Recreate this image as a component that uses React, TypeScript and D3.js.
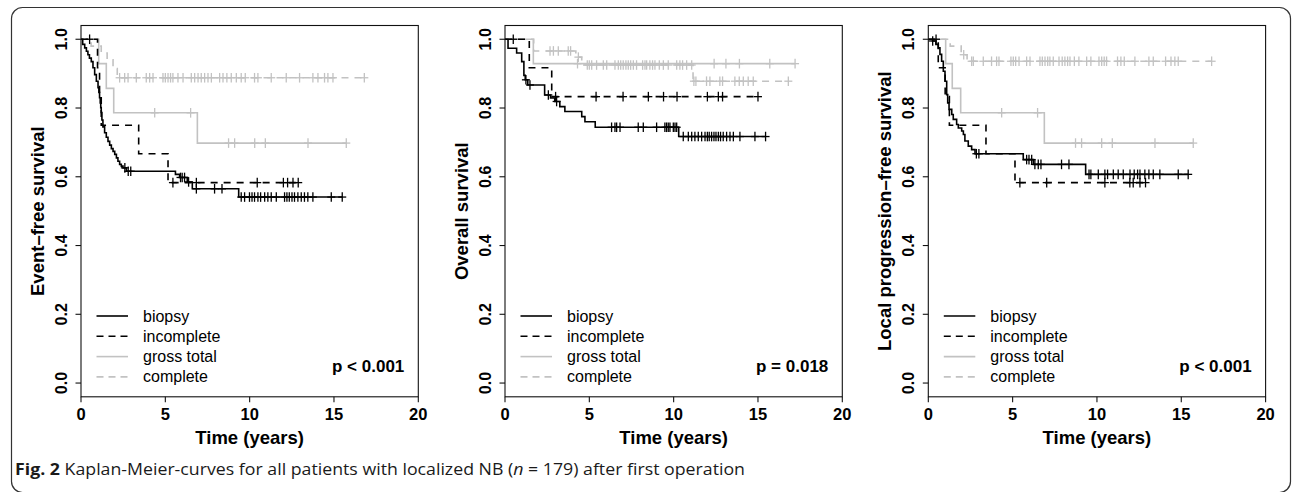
import React from 'react';
import * as d3 from 'd3';

// ---------- axis / label data ----------
const xTicks = [0, 5, 10, 15, 20];
const yTicks = [0, 0.2, 0.4, 0.6, 0.8, 1.0];
const groupNames = ['biopsy', 'incomplete', 'gross total', 'complete'];
const panelTitles = ['Event\u2013free survival', 'Overall survival', 'Local progression\u2013free survival'];
const pValues = ['p < 0.001', 'p = 0.018', 'p < 0.001'];
const xTitle = 'Time (years)';

// ---------- Event-free survival ----------
const efsBiopsyT = [0.1, 0.22, 0.32, 0.41, 0.5, 0.61, 0.71, 0.81, 0.91, 1.01, 1.06, 1.1, 1.14, 1.17, 1.2, 1.24, 1.3, 1.4, 1.5, 1.6, 1.7, 1.8, 1.9, 2.0, 2.1, 2.19, 2.29, 2.39, 2.49, 2.69, 5.6, 5.85, 6.3, 6.6, 9.35];
const efsBiopsyS = [0.985, 0.975, 0.965, 0.955, 0.945, 0.935, 0.917, 0.897, 0.878, 0.859, 0.845, 0.83, 0.815, 0.801, 0.787, 0.765, 0.745, 0.728, 0.715, 0.703, 0.692, 0.682, 0.674, 0.665, 0.655, 0.645, 0.636, 0.631, 0.626, 0.616, 0.607, 0.598, 0.585, 0.565, 0.541];
const efsBiopsyC = [2.6, 2.8, 2.95, 5.9, 6.0, 6.14, 6.38, 6.84, 7.92, 8.36, 9.5, 9.7, 9.99, 10.14, 10.29, 10.49, 10.65, 10.89, 11.08, 11.28, 11.58, 12.07, 12.21, 12.35, 12.51, 12.66, 12.86, 13.06, 13.25, 13.45, 13.75, 14.84, 15.49];
const efsIncompleteT = [0.98, 1.1, 1.2, 3.42, 5.16];
const efsIncompleteS = [0.917, 0.833, 0.75, 0.667, 0.583];
const efsIncompleteC = [0.51, 5.45, 6.84, 10.45, 12.0, 12.25, 12.57, 12.88];
const efsGrossT = [1.05, 1.5, 1.94, 6.9];
const efsGrossS = [0.929, 0.857, 0.786, 0.698];
const efsGrossC = [4.37, 6.5, 8.75, 9.11, 10.3, 10.93, 13.46, 15.73];
const efsCompleteT = [0.6, 1.2, 1.55, 1.9, 2.15];
const efsCompleteS = [0.98, 0.96, 0.94, 0.915, 0.888];
const efsCompleteC = [2.29, 2.59, 2.79, 3.28, 3.87, 4.07, 4.27, 4.86, 5.0, 5.16, 5.31, 5.45, 5.75, 6.05, 6.54, 6.74, 6.94, 7.13, 7.33, 7.53, 7.73, 8.22, 8.42, 8.65, 8.91, 9.21, 9.5, 9.74, 10.29, 10.49, 11.28, 12.17, 12.96, 13.75, 14.05, 14.44, 14.64, 14.94, 16.8];

// ---------- Overall survival ----------
const osBiopsyT = [0.18, 0.69, 0.99, 1.12, 1.2, 1.35, 2.35, 2.7, 2.95, 3.25, 3.55, 4.55, 4.74, 5.35, 10.3];
const osBiopsyS = [0.974, 0.96, 0.935, 0.895, 0.882, 0.867, 0.838, 0.829, 0.819, 0.804, 0.79, 0.775, 0.76, 0.744, 0.717];
const osBiopsyC = [1.24, 1.48, 2.57, 3.06, 6.32, 6.52, 6.62, 6.82, 7.9, 8.2, 8.99, 9.48, 9.58, 9.68, 9.78, 9.98, 10.08, 10.18, 10.57, 10.87, 11.07, 11.26, 11.46, 11.66, 11.86, 12.0, 12.11, 12.25, 12.39, 12.51, 12.65, 12.78, 12.94, 13.14, 13.34, 13.54, 13.93, 14.82, 15.45];
const osIncompleteT = [1.44, 2.77];
const osIncompleteS = [0.917, 0.833];
const osIncompleteC = [0.49, 3.0, 5.4, 7.0, 8.5, 9.4, 10.2, 12.0, 12.65, 12.9, 15.0];
const osGrossT = [1.68];
const osGrossS = [0.929];
const osGrossC = [4.3, 12.4, 13.1, 13.9, 15.7, 17.2];
const osCompleteT = [1.7, 4.2, 4.55, 11.15];
const osCompleteS = [0.966, 0.948, 0.925, 0.878];
const osCompleteC = [2.67, 2.87, 3.16, 3.75, 3.89, 4.35, 4.88, 5.0, 5.14, 5.43, 5.83, 6.03, 6.52, 6.72, 6.86, 7.01, 7.17, 7.31, 7.45, 7.61, 7.8, 8.16, 8.3, 8.4, 8.59, 8.75, 8.89, 9.15, 9.39, 9.68, 10.18, 10.37, 10.53, 10.77, 11.07, 11.2, 11.32, 11.95, 12.15, 12.74, 12.9, 13.63, 13.89, 14.13, 14.42, 14.72, 16.8];

// ---------- Local progression-free survival ----------
const lpfsBiopsyT = [0.25, 0.45, 0.59, 0.69, 0.79, 0.89, 0.99, 1.09, 1.15, 1.23, 1.39, 1.48, 1.68, 1.78, 1.98, 2.08, 2.17, 2.37, 2.57, 2.77, 5.63, 6.23, 9.33];
const lpfsBiopsyS = [0.995, 0.985, 0.975, 0.956, 0.936, 0.907, 0.878, 0.839, 0.815, 0.796, 0.781, 0.767, 0.752, 0.742, 0.733, 0.723, 0.704, 0.689, 0.679, 0.667, 0.65, 0.636, 0.607];
const lpfsBiopsyC = [0.26, 2.85, 3.0, 5.83, 5.97, 6.13, 6.32, 6.52, 6.68, 7.9, 8.34, 9.53, 9.64, 10.08, 10.47, 10.63, 10.97, 11.26, 11.56, 11.96, 12.21, 12.41, 12.55, 12.84, 13.08, 13.34, 13.73, 14.82, 15.41];
const lpfsIncompleteT = [0.59, 1.0, 1.25, 3.42, 5.14];
const lpfsIncompleteS = [0.917, 0.833, 0.75, 0.667, 0.583];
const lpfsIncompleteC = [0.46, 5.43, 7.02, 10.47, 11.95, 12.15, 12.55, 12.88];
const lpfsGrossT = [1.03, 1.42, 1.92, 6.88];
const lpfsGrossS = [0.929, 0.857, 0.786, 0.698];
const lpfsGrossC = [4.35, 6.48, 8.73, 9.09, 10.28, 10.91, 13.44, 15.71];
const lpfsCompleteT = [1.3, 1.95, 2.3];
const lpfsCompleteS = [0.98, 0.955, 0.936];
const lpfsCompleteC = [2.1, 2.57, 2.67, 3.26, 3.75, 4.05, 4.19, 4.9, 5.04, 5.18, 5.38, 5.83, 6.03, 6.62, 6.76, 6.92, 7.08, 7.21, 7.41, 7.75, 7.94, 8.1, 8.26, 8.4, 8.66, 8.93, 9.39, 9.64, 10.12, 10.28, 10.43, 10.57, 11.22, 11.42, 11.62, 12.25, 13.08, 13.34, 14.07, 14.39, 14.62, 14.82, 16.8];

type Curve = { t: number[]; s: number[]; c: number[] };

const panels: Curve[][] = [
  [
    { t: efsBiopsyT, s: efsBiopsyS, c: efsBiopsyC },
    { t: efsIncompleteT, s: efsIncompleteS, c: efsIncompleteC },
    { t: efsGrossT, s: efsGrossS, c: efsGrossC },
    { t: efsCompleteT, s: efsCompleteS, c: efsCompleteC },
  ],
  [
    { t: osBiopsyT, s: osBiopsyS, c: osBiopsyC },
    { t: osIncompleteT, s: osIncompleteS, c: osIncompleteC },
    { t: osGrossT, s: osGrossS, c: osGrossC },
    { t: osCompleteT, s: osCompleteS, c: osCompleteC },
  ],
  [
    { t: lpfsBiopsyT, s: lpfsBiopsyS, c: lpfsBiopsyC },
    { t: lpfsIncompleteT, s: lpfsIncompleteS, c: lpfsIncompleteC },
    { t: lpfsGrossT, s: lpfsGrossS, c: lpfsGrossC },
    { t: lpfsCompleteT, s: lpfsCompleteS, c: lpfsCompleteC },
  ],
];

// ---------- styling ----------
const GRAY = '#c2c2c2';
const groupStyle = [
  { color: '#000', dash: undefined as string | undefined },
  { color: '#000', dash: '7,6' },
  { color: GRAY, dash: undefined as string | undefined },
  { color: GRAY, dash: '7,6' },
];
const drawOrder = [3, 2, 1, 0];

const W = 1292;
const H = 492;
const boxTop = 25.5;
const boxBottom = 396.8;
const boxW = 337.3;
const panelLefts = [81, 505, 928.3];
const FONT = '"Liberation Sans", Arial, Helvetica, sans-serif';

function survAt(cv: Curve, time: number) {
  let v = 1;
  cv.t.forEach((t, i) => {
    if (t <= time) v = cv.s[i];
  });
  return v;
}

function Panel({ idx }: { idx: number }) {
  const left = panelLefts[idx];
  const x = d3.scaleLinear().domain([0, 20]).range([left, left + boxW]);
  const y = d3.scaleLinear().domain([-0.04, 1.04]).range([boxBottom, boxTop]);
  const line = d3
    .line<[number, number]>()
    .x((d) => x(d[0]))
    .y((d) => y(d[1]))
    .curve(d3.curveStepAfter);
  const curves = panels[idx];
  const cy = (boxTop + boxBottom) / 2;
  const legendY0 = 316;
  const legendDy = 20.3;
  const mv = 4.8;
  const mh = 4;
  return (
    <g>
      {drawOrder.map((gi) => {
        const cv = curves[gi];
        const st = groupStyle[gi];
        const end = Math.max(cv.t[cv.t.length - 1], d3.max(cv.c) || 0);
        const pts: [number, number][] = [[0, 1]];
        cv.t.forEach((t, i) => pts.push([t, cv.s[i]]));
        pts.push([end, cv.s[cv.s.length - 1]]);
        return (
          <g key={gi}>
            <path d={line(pts) || ''} fill="none" stroke={st.color} strokeWidth={1.6} strokeDasharray={st.dash} />
            {cv.c.map((c, k) => {
              const px = x(c);
              const py = y(survAt(cv, c));
              return (
                <g key={k} stroke={st.color} strokeWidth={1.3}>
                  <line x1={px} x2={px} y1={py - mv} y2={py + mv} />
                  <line x1={px - mh} x2={px + mh} y1={py} y2={py} />
                </g>
              );
            })}
          </g>
        );
      })}
      <rect x={left} y={boxTop} width={boxW} height={boxBottom - boxTop} fill="none" stroke="#111" strokeWidth={1.1} />
      {xTicks.map((t) => (
        <g key={'x' + t}>
          <line x1={x(t)} x2={x(t)} y1={boxBottom} y2={boxBottom + 5.5} stroke="#111" strokeWidth={1.1} />
          <text x={x(t)} y={420} textAnchor="middle" fontFamily={FONT} fontWeight="bold" fontSize={16.5}>
            {t}
          </text>
        </g>
      ))}
      {yTicks.map((t) => (
        <g key={'y' + t}>
          <line x1={left} x2={left - 5.5} y1={y(t)} y2={y(t)} stroke="#111" strokeWidth={1.1} />
          <text
            transform={`translate(${left - 14},${y(t)}) rotate(-90)`}
            textAnchor="middle"
            fontFamily={FONT}
            fontWeight="bold"
            fontSize={16}
          >
            {t.toFixed(1)}
          </text>
        </g>
      ))}
      <text x={left + boxW / 2} y={444} textAnchor="middle" fontFamily={FONT} fontWeight="bold" fontSize={18.5}>
        {xTitle}
      </text>
      <text
        transform={`translate(${left - 37},${cy}) rotate(-90)`}
        textAnchor="middle"
        fontFamily={FONT}
        fontWeight="bold"
        fontSize={18.5}
      >
        {panelTitles[idx]}
      </text>
      {groupNames.map((g, i) => {
        const ly = legendY0 + i * legendDy;
        const st = groupStyle[i];
        return (
          <g key={g}>
            <line x1={left + 15.5} x2={left + 47} y1={ly} y2={ly} stroke={st.color} strokeWidth={1.6} strokeDasharray={st.dash ? '7,5' : undefined} />
            <text x={left + 62} y={ly + 5.5} fontFamily={FONT} fontSize={16}>
              {g}
            </text>
          </g>
        );
      })}
      <text x={left + boxW - 14} y={371.5} textAnchor="end" fontFamily={FONT} fontWeight="bold" fontSize={17}>
        {pValues[idx]}
      </text>
    </g>
  );
}

export default function App() {
  return (
    <svg
      width={W}
      height={H}
      viewBox={`0 0 ${W} ${H}`}
      style={{ position: 'absolute', left: 0, top: 0, background: '#fff' }}
    >
      <rect x={0} y={0} width={W} height={H} fill="#fff" />
      <rect x={11.5} y={7.5} width={1279} height={485} rx={11} ry={11} fill="none" stroke="#333" strokeWidth={1.2} />
      {[0, 1, 2].map((i) => (
        <Panel key={i} idx={i} />
      ))}
      <text x={15} y={475} fontFamily='"Open Sans", "Noto Sans", sans-serif' fontSize={15.5} fill="#1a1a1a" textLength={730} lengthAdjust="spacingAndGlyphs">
        <tspan fontWeight="bold">Fig. 2</tspan>
        <tspan> Kaplan-Meier-curves for all patients with localized NB (</tspan>
        <tspan fontStyle="italic">n</tspan>
        <tspan> = 179) after first operation</tspan>
      </text>
    </svg>
  );
}
